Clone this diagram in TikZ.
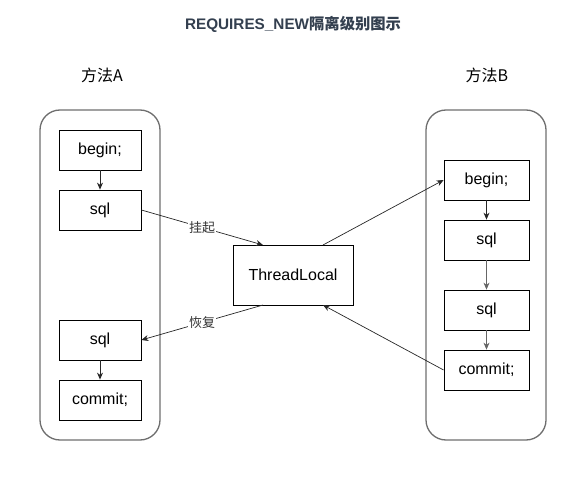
\documentclass[tikz,border=0pt]{standalone}
\usepackage{fontspec}
\setmainfont{Liberation Sans}
\newfontfamily\cjk{Noto Sans CJK SC}
\usetikzlibrary{arrows.meta}
\definecolor{titlec}{HTML}{333F4F}
\definecolor{contc}{HTML}{6E6E6E}
\begin{document}
\begin{tikzpicture}[x=1pt,y=-1pt,
  box/.style={draw=black,line width=0.8pt,minimum width=#1,minimum height=40pt,inner sep=0pt,font=\fontsize{16}{18}\selectfont},
  box/.default=82pt,
  cont/.style={draw=contc,line width=1.3pt,rounded corners=20pt},
  arr/.style={-{Stealth[length=7pt,width=6pt]},line width=0.7pt,draw=black!85},
  lbl/.style={fill=white,inner sep=1pt,font=\cjk\fontsize{13}{15}\selectfont,text=black!80}]
\useasboundingbox (0,0) rectangle (587,481);
\node[font=\bfseries\fontsize{15.3}{18}\selectfont,text=titlec] (title) at (293,24) {REQUIRES\_NEW{\cjk\bfseries 隔离级别图示}};
\node[font=\cjk\fontsize{16}{18}\selectfont] (la) at (102,75) {方法A};
\node[font=\cjk\fontsize{16}{18}\selectfont] (lb) at (487,75) {方法B};
\draw[cont] (40,110) rectangle (160,440);
\draw[cont] (426,110) rectangle (546,440);
% left
\node[box] (a1) at (100,150) {begin;};
\node[box] (a2) at (100,210) {sql};
\node[box] (a3) at (100,340) {sql};
\node[box] (a4) at (100,400) {commit;};
% right
\node[box=85pt] (b1) at (486.5,180) {begin;};
\node[box=85pt] (b2) at (486.5,240) {sql};
\node[box=85pt] (b3) at (486.5,310) {sql};
\node[box=85pt] (b4) at (486.5,370) {commit;};
\node[box=120pt,minimum height=60pt] (tl) at (293,275) {ThreadLocal};
\coordinate (tltl) at (263,245);
\coordinate (tltr) at (323,245);
\coordinate (tlbl) at (263,305);
\coordinate (tlbr) at (323,305);
\draw[arr] (a1) -- (a2);
\draw[arr,line width=1pt] (a3) -- (a4);
\draw[arr,line width=1pt] (b1) -- (b2);
\draw[arr,draw=black!60] (b2) -- (b3);
\draw[arr,draw=black!60] (b3) -- (b4);
\draw[arr] (a2.east) -- node[lbl,pos=0.5] {挂起} (tltl);
\draw[arr] (tlbl) -- node[lbl,pos=0.5] {恢复} (a3.east);
\draw[arr] (tltr) -- (b1.west);
\draw[arr] (b4.west) -- (tlbr);
\end{tikzpicture}
\end{document}
